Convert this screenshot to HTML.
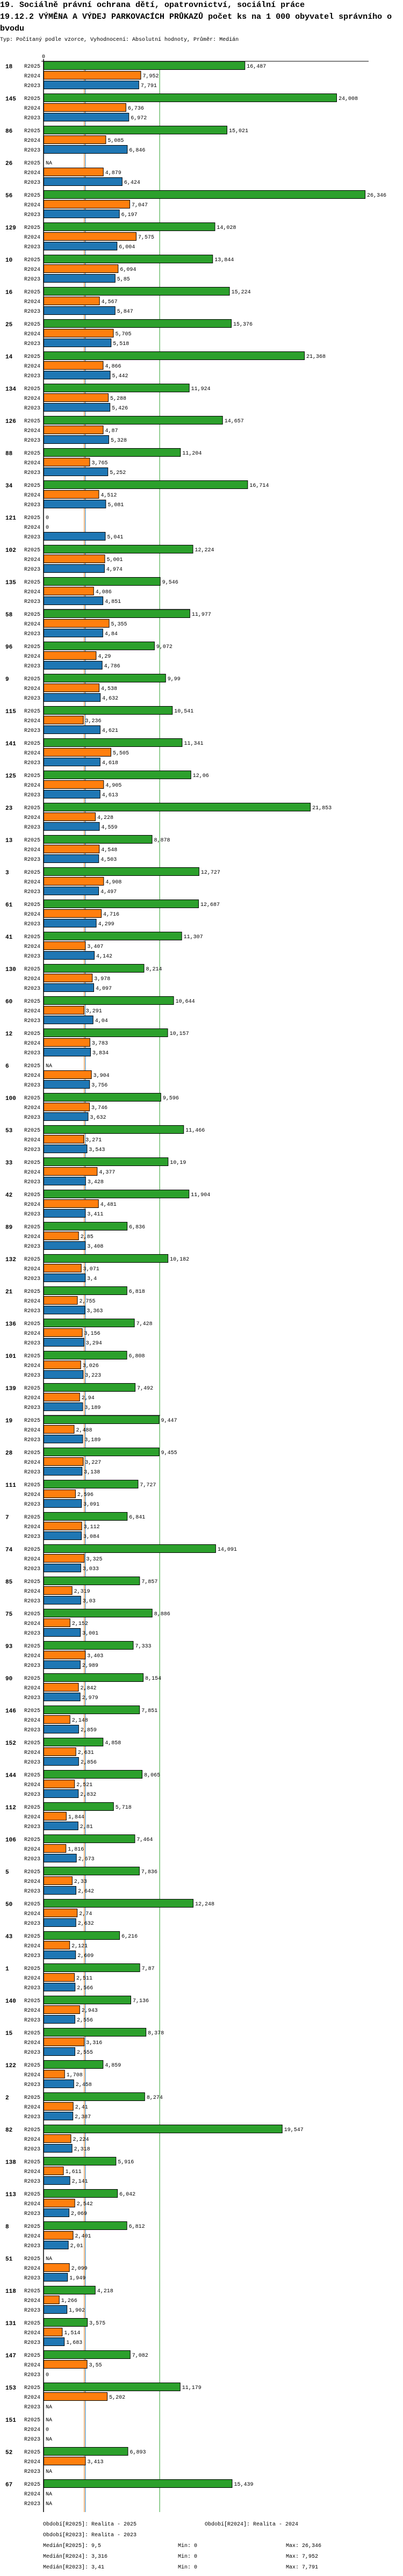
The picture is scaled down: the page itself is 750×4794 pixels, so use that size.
<!DOCTYPE html>
<html><head><meta charset="utf-8">
<style>
body{margin:0;background:#fff;width:750px;height:4794px;overflow:hidden}
svg{display:block}
text{font-family:"Liberation Mono","DejaVu Sans Mono",monospace}
</style></head>
<body>
<svg id="chart" width="750" height="4794" viewBox="0 0 750 4794" xmlns="http://www.w3.org/2000/svg">
<g font-weight="bold" font-size="15">
<text x="0" y="13">19. Sociálně právní ochrana dětí, opatrovnictví, sociální práce</text>
<text x="0" y="35">19.12.2 VÝMĚNA A VÝDEJ PARKOVACÍCH PRŮKAZŮ počet ks na 1 000 obyvatel správního o</text>
<text x="0" y="57">bvodu</text>
</g>
<text x="0" y="76" font-size="10">Typ: Počítaný podle vzorce, Vyhodnocení: Absolutní hodnoty, Průměr: Medián</text>
<g id="plot"></g>
<g font-size="10">
<text x="80" y="4700">Období[R2025]: Realita - 2025</text>
<text x="381" y="4700">Období[R2024]: Realita - 2024</text>
<text x="80" y="4720">Období[R2023]: Realita - 2023</text>
<text x="80" y="4740">Medián[R2025]: 9,5</text><text x="331" y="4740">Min: 0</text><text x="532" y="4740">Max: 26,346</text>
<text x="80" y="4760">Medián[R2024]: 3,316</text><text x="331" y="4760">Min: 0</text><text x="532" y="4760">Max: 7,952</text>
<text x="80" y="4780">Medián[R2023]: 3,41</text><text x="331" y="4780">Min: 0</text><text x="532" y="4780">Max: 7,791</text>
</g>
</svg>
<script>
const categories=["18","145","86","26","56","129","10","16","25","14","134","126","88","34","121","102","135","58","96","9","115","141","125","23","13","3","61","41","130","60","12","6","100","53","33","42","89","132","21","136","101","139","19","28","111","7","74","85","75","93","90","146","152","144","112","106","5","50","43","1","140","15","122","2","82","138","113","8","51","118","131","147","153","151","52","67"];
const r2025=[16.487,24.008,15.021,null,26.346,14.028,13.844,15.224,15.376,21.368,11.924,14.657,11.204,16.714,0,12.224,9.546,11.977,9.072,9.99,10.541,11.341,12.06,21.853,8.878,12.727,12.687,11.307,8.214,10.644,10.157,null,9.596,11.466,10.19,11.904,6.836,10.182,6.818,7.428,6.808,7.492,9.447,9.455,7.727,6.841,14.091,7.857,8.886,7.333,8.154,7.851,4.858,8.065,5.718,7.464,7.836,12.248,6.216,7.87,7.136,8.378,4.859,8.274,19.547,5.916,6.042,6.812,null,4.218,3.575,7.082,11.179,null,6.893,15.439];
const r2024=[7.952,6.736,5.085,4.879,7.047,7.575,6.094,4.567,5.705,4.866,5.288,4.87,3.765,4.512,0,5.001,4.086,5.355,4.29,4.538,3.236,5.505,4.905,4.228,4.548,4.908,4.716,3.407,3.978,3.291,3.783,3.904,3.746,3.271,4.377,4.481,2.85,3.071,2.755,3.156,3.026,2.94,2.488,3.227,2.596,3.112,3.325,2.319,2.152,3.403,2.842,2.148,2.631,2.521,1.844,1.816,2.33,2.74,2.121,2.511,2.943,3.316,1.708,2.41,2.224,1.611,2.542,2.401,2.099,1.266,1.514,3.55,5.202,0,3.413,null];
const r2023=[7.791,6.972,6.846,6.424,6.197,6.004,5.85,5.847,5.518,5.442,5.426,5.328,5.252,5.081,5.041,4.974,4.851,4.84,4.786,4.632,4.621,4.618,4.613,4.559,4.503,4.497,4.299,4.142,4.097,4.04,3.834,3.756,3.632,3.543,3.428,3.411,3.408,3.4,3.363,3.294,3.223,3.189,3.189,3.138,3.091,3.084,3.033,3.03,3.001,2.989,2.979,2.859,2.856,2.832,2.81,2.673,2.642,2.632,2.609,2.566,2.556,2.555,2.458,2.387,2.318,2.141,2.069,2.01,1.949,1.902,1.683,0,null,null,null,null];
const seriesNames=["R2025","R2024","R2023"];
const medians=[9.5,3.316,3.41];

const NS="http://www.w3.org/2000/svg";
const plot=document.getElementById('plot');
const X0=81, SCALE=22.7, TOP=114, GH=60, RH=18;
const colors=["#2ca02c","#ff7f0e","#1f77b4"];
const series=[r2025,r2024,r2023];
const xs=v=>X0+v*SCALE;
const bottom=TOP+categories.length*GH+1;
function mk(tag,attrs,parent){const e=document.createElementNS(NS,tag);for(const k in attrs)e.setAttribute(k,attrs[k]);(parent||plot).appendChild(e);return e;}
function fmt(v){return String(v).replace('.',',');}

// median lines
medians.forEach((m,i)=>{
  const l=mk('line',{x1:xs(m)+0.5,x2:xs(m)+0.5,y1:TOP,y2:bottom,stroke:colors[i],'stroke-width':1});
  
  
});

categories.forEach((c,gi)=>{
  const gy=TOP+gi*GH;
  const gl=mk('text',{x:10,y:gy+13,'font-size':11,'font-weight':'bold'});
  gl.textContent=c;
  
  
  series.forEach((s,si)=>{
    const y=gy+si*RH;
    const sl=mk('text',{x:75,y:y+12,'font-size':10,'text-anchor':'end'});
    sl.textContent=seriesNames[si];
    
    
    const v=s[gi];
    let lx=X0+4, lab;
    if(v===null){lab='NA';}
    else{
      lab=fmt(v);
      if(v>0){
        const r=mk('rect',{x:X0+0.5,y:y+0.5,width:v*SCALE,height:15,fill:colors[si],stroke:'#000','stroke-width':1});
        
        
        lx=xs(v)+4;
      }
    }
    const vt=mk('text',{x:lx,y:y+12,'font-size':10});
    vt.textContent=lab;
    
    
  });
});

// axis
const ax=mk('line',{x1:X0,x2:X0,y1:TOP-4,y2:bottom,stroke:'#000','stroke-width':1.5});


const tl=mk('line',{x1:X0-4,x2:686,y1:TOP,y2:TOP,stroke:'#000','stroke-width':1});


const t0=mk('text',{x:X0,y:TOP-6,'font-size':10,'text-anchor':'middle'});
t0.textContent='0';


[[17,354],[42,298]].forEach(p=>{
  const l=mk('line',{x1:X0,x2:p[1],y1:TOP+p[0]*GH,y2:TOP+p[0]*GH,stroke:'#000','stroke-width':1});
  
  
});
</script>
</body></html>
